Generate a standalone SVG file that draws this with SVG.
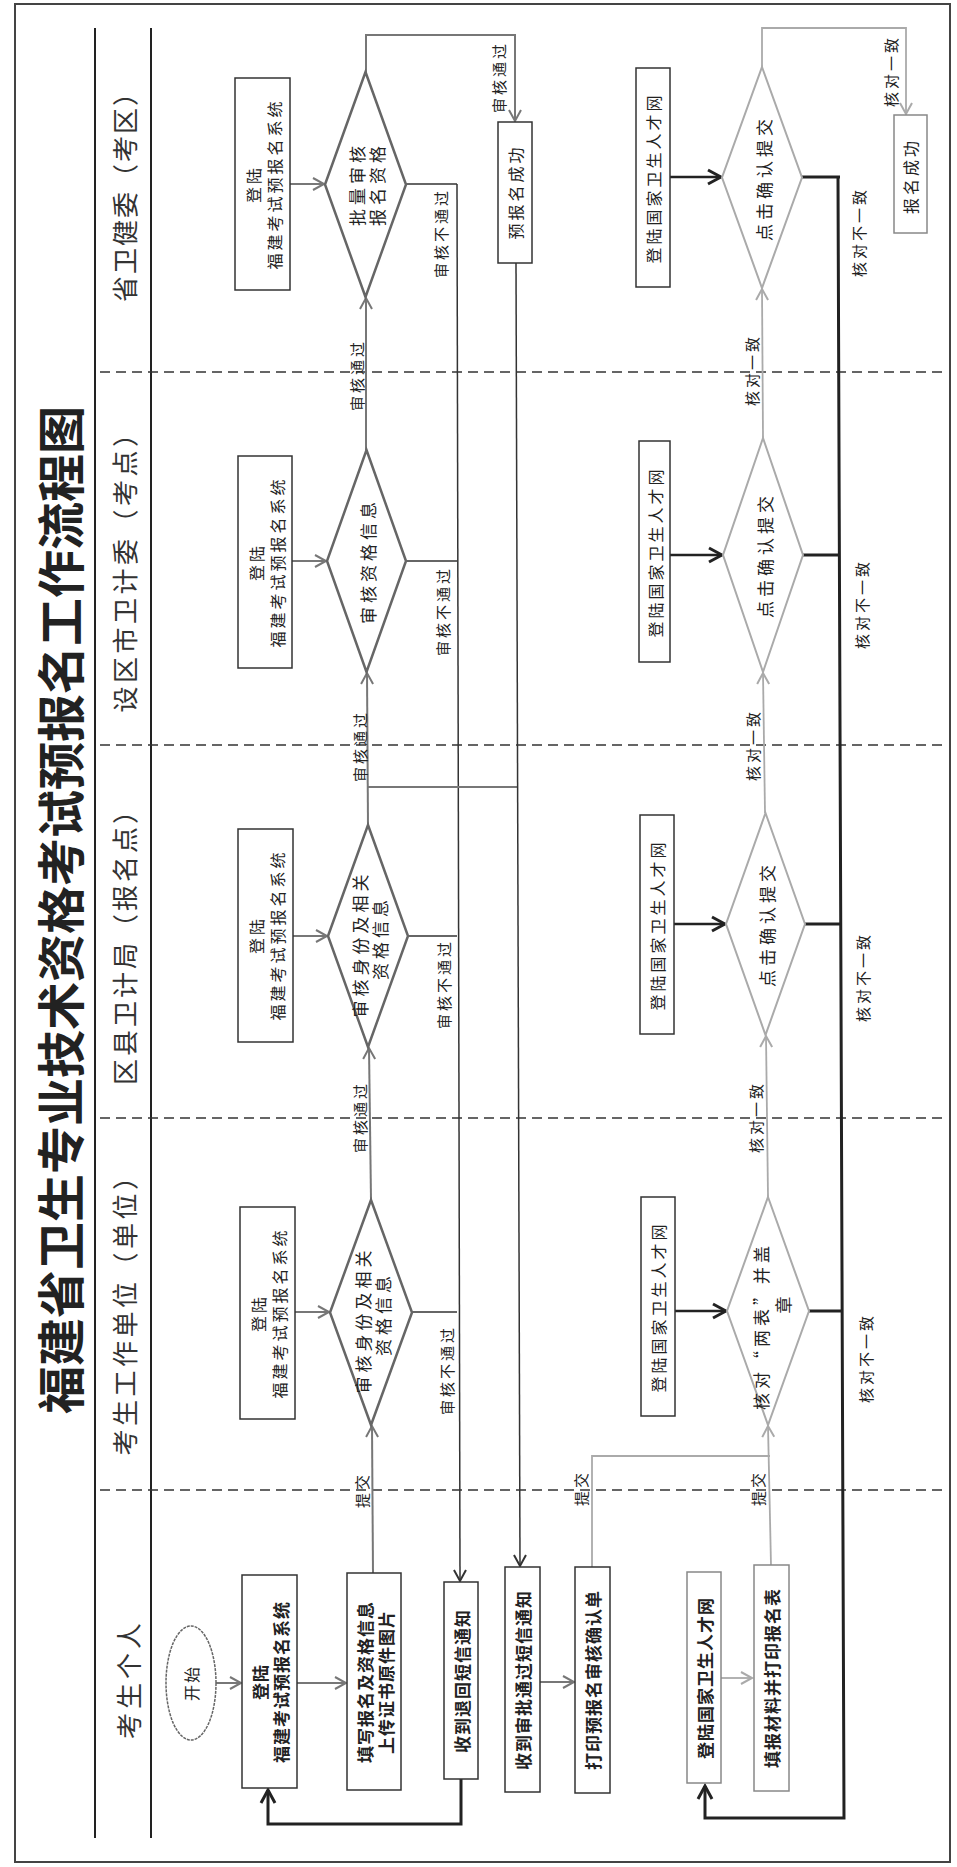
<svg xmlns="http://www.w3.org/2000/svg" width="957" height="1867" viewBox="0 0 957 1867">
<defs>
<style>
text{font-family:"Noto Sans CJK SC","Noto Sans CJK JP",sans-serif;fill:#222;text-anchor:middle;dominant-baseline:central}
.box{fill:#fff;stroke:#333;stroke-width:1.5}
.boxl{fill:#fff;stroke:#888;stroke-width:1.5}
.dia{fill:#fff;stroke:#666;stroke-width:2.5}
.dial{fill:#fff;stroke:#aaa;stroke-width:2}
.ln{fill:none;stroke:#333;stroke-width:1.5}
.lg{fill:none;stroke:#777;stroke-width:2}
.ll{fill:none;stroke:#aaa;stroke-width:1.8}
.lt{fill:none;stroke:#222;stroke-width:3}
.dash{stroke:#333;stroke-width:1.5;stroke-dasharray:10 6}
.hd{font-size:26px;fill:#333}
.lb{font-size:15px;letter-spacing:3px}
.bt{font-size:16px;letter-spacing:3px}
.bb{font-size:17px;font-weight:700;letter-spacing:1px}
.dt{font-size:17px;letter-spacing:4px}
</style>
<marker id="aD" markerUnits="userSpaceOnUse" markerWidth="16" markerHeight="16" refX="13" refY="8" orient="auto"><path d="M2,2 L13,8 L2,14" fill="none" stroke="#333" stroke-width="2"/></marker>
<marker id="aG" markerUnits="userSpaceOnUse" markerWidth="16" markerHeight="16" refX="13" refY="8" orient="auto"><path d="M2,2 L13,8 L2,14" fill="none" stroke="#777" stroke-width="2"/></marker>
<marker id="aL" markerUnits="userSpaceOnUse" markerWidth="16" markerHeight="16" refX="13" refY="8" orient="auto"><path d="M2,2 L13,8 L2,14" fill="none" stroke="#aaa" stroke-width="2"/></marker>
<marker id="aT" markerUnits="userSpaceOnUse" markerWidth="18" markerHeight="18" refX="15" refY="9" orient="auto"><path d="M2,2 L15,9 L2,16" fill="none" stroke="#222" stroke-width="3"/></marker>
</defs>
<rect x="0" y="0" width="957" height="1867" fill="#fff"/>
<rect x="15" y="4" width="935" height="1858" fill="none" stroke="#444" stroke-width="2"/>

<g id="frame">
<text x="58" y="910" transform="rotate(-90 58 910)" style="font-size:48px;font-weight:700;fill:#222">福建省卫生专业技术资格考试预报名工作流程图</text>
<line x1="95" y1="28" x2="95" y2="1838" stroke="#222" stroke-width="2"/>
<line x1="151" y1="28" x2="151" y2="1838" stroke="#222" stroke-width="2"/>
<line class="dash" x1="100" y1="372" x2="942" y2="372"/>
<line class="dash" x1="100" y1="745" x2="942" y2="745"/>
<line class="dash" x1="100" y1="1118" x2="942" y2="1118"/>
<line class="dash" x1="100" y1="1490" x2="942" y2="1490"/>
<text class="hd" x="123" y="190" transform="rotate(-90 123 190)" style="letter-spacing:2px">省卫健委（考区）</text>
<text class="hd" x="123" y="565" transform="rotate(-90 123 565)" style="letter-spacing:3.5px">设区市卫计委（考点）</text>
<text class="hd" x="123" y="940" transform="rotate(-90 123 940)" style="letter-spacing:3px">区县卫计局（报名点）</text>
<text class="hd" x="123" y="1308" transform="rotate(-90 123 1308)" style="letter-spacing:3.5px">考生工作单位（单位）</text>
<text class="hd" x="127" y="1679" transform="rotate(-90 127 1679)" style="letter-spacing:4px">考生个人</text>
</g>

<g id="connectors">
<!-- personal lane -->
<line class="lg" x1="216" y1="1683" x2="241" y2="1683" marker-end="url(#aG)"/>
<line class="lg" x1="297" y1="1683" x2="346" y2="1683" marker-end="url(#aG)"/>
<polyline class="lt" points="461,1779 461,1824 268,1824 268,1790" marker-end="url(#aT)"/>
<line class="lg" x1="540" y1="1682" x2="574" y2="1682" marker-end="url(#aG)"/>
<line class="ll" x1="721" y1="1678" x2="752" y2="1678" marker-end="url(#aL)"/>
<!-- upper system -->
<line class="lg" x1="290" y1="184" x2="324" y2="184" marker-end="url(#aG)"/>
<line class="lg" x1="292" y1="561" x2="326" y2="561" marker-end="url(#aG)"/>
<line class="lg" x1="293" y1="936" x2="327" y2="936" marker-end="url(#aG)"/>
<line class="lg" x1="295" y1="1312" x2="329" y2="1312" marker-end="url(#aG)"/>
<polyline class="ln" points="406,184 457,184"/>
<polyline class="ln" points="406,561 457,561"/>
<polyline class="ln" points="408,936 457,936"/>
<polyline class="ln" points="412,1312 457,1312"/>
<line class="ln" x1="457" y1="184" x2="460" y2="1581" marker-end="url(#aD)"/>
<line class="lg" x1="371" y1="1200" x2="369" y2="1048" marker-end="url(#aG)"/>
<line class="lg" x1="368" y1="825" x2="367" y2="673" marker-end="url(#aG)"/>
<line class="lg" x1="366" y1="450" x2="366" y2="298" marker-end="url(#aG)"/>
<polyline class="lg" points="366,72 366,35 515,35 515,121" marker-end="url(#aG)"/>
<line class="lg" x1="373" y1="1573" x2="372" y2="1426" marker-end="url(#aG)"/>
<line class="lg" x1="368" y1="787" x2="517" y2="787"/>
<line class="ln" x1="516" y1="263" x2="520" y2="1566" marker-end="url(#aD)"/>
<!-- lower talent net -->
<line class="lt" x1="670" y1="177" x2="721" y2="177" marker-end="url(#aT)" style="stroke-width:2.5"/>
<line class="lt" x1="670" y1="555" x2="722" y2="555" marker-end="url(#aT)" style="stroke-width:2.5"/>
<line class="lt" x1="674" y1="924" x2="725" y2="924" marker-end="url(#aT)" style="stroke-width:2.5"/>
<line class="lt" x1="675" y1="1311" x2="726" y2="1311" marker-end="url(#aT)" style="stroke-width:2.5"/>
<polyline class="lt" points="802,177 840,177"/>
<polyline class="lt" points="803,555 840,555"/>
<polyline class="lt" points="805,924 841,924"/>
<polyline class="lt" points="809,1311 842,1311"/>
<polyline class="lt" points="838,177 844,1818 705,1818 705,1786" marker-end="url(#aT)"/>
<line class="ll" x1="768" y1="1197" x2="766" y2="1036" marker-end="url(#aL)"/>
<line class="ll" x1="765" y1="813" x2="763" y2="673" marker-end="url(#aL)"/>
<line class="ll" x1="763" y1="438" x2="762" y2="289" marker-end="url(#aL)"/>
<polyline class="ll" points="762,67 762,28 906,28 906,114" marker-end="url(#aL)"/>
<line class="ll" x1="771" y1="1565" x2="768" y2="1426" marker-end="url(#aL)"/>
<polyline class="ll" points="592,1567 592,1456 770,1456"/>
<!-- labels -->
<text class="lb" x="440" y="233" transform="rotate(-90 440 233)">审核不通过</text>
<text class="lb" x="442" y="611" transform="rotate(-90 442 611)">审核不通过</text>
<text class="lb" x="443" y="984" transform="rotate(-90 443 984)">审核不通过</text>
<text class="lb" x="446" y="1370" transform="rotate(-90 446 1370)">审核不通过</text>
<text class="lb" x="359" y="1117" transform="rotate(-90 359 1117)">审核通过</text>
<text class="lb" x="359" y="746" transform="rotate(-90 359 746)">审核通过</text>
<text class="lb" x="356" y="375" transform="rotate(-90 356 375)">审核通过</text>
<text class="lb" x="498" y="77" transform="rotate(-90 498 77)">审核通过</text>
<text class="lb" x="361" y="1490" transform="rotate(-90 361 1490)">提交</text>
<text class="lb" x="580" y="1488" transform="rotate(-90 580 1488)">提交</text>
<text class="lb" x="757" y="1488" transform="rotate(-90 757 1488)">提交</text>
<text class="lb" x="858" y="232" transform="rotate(-90 858 232)">核对不一致</text>
<text class="lb" x="861" y="604" transform="rotate(-90 861 604)">核对不一致</text>
<text class="lb" x="862" y="977" transform="rotate(-90 862 977)">核对不一致</text>
<text class="lb" x="865" y="1358" transform="rotate(-90 865 1358)">核对不一致</text>
<text class="lb" x="755" y="1117" transform="rotate(-90 755 1117)">核对一致</text>
<text class="lb" x="752" y="745" transform="rotate(-90 752 745)">核对一致</text>
<text class="lb" x="751" y="370" transform="rotate(-90 751 370)">核对一致</text>
<text class="lb" x="890" y="71" transform="rotate(-90 890 71)">核对一致</text>
</g>

<!-- personal lane nodes -->
<g id="start">
<ellipse cx="191" cy="1683" rx="25" ry="57" fill="#fff" stroke="#666" stroke-width="1.5" stroke-dasharray="3 1"/>
<text x="191" y="1683" transform="rotate(-90 191 1683)" style="font-size:16px;letter-spacing:2px">开始</text>
</g>
<g id="p_login">
<rect class="box" x="242" y="1575" width="55" height="213"/>
<text class="bb" x="259" y="1682" transform="rotate(-90 259 1682)">登陆</text>
<text class="bb" x="280" y="1682" transform="rotate(-90 280 1682)">福建考试预报名系统</text>
</g>
<g id="p_fill">
<rect class="box" x="347" y="1573" width="54" height="217"/>
<text class="bb" x="364" y="1682" transform="rotate(-90 364 1682)">填写报名及资格信息</text>
<text class="bb" x="385" y="1682" transform="rotate(-90 385 1682)">上传证书原件图片</text>
</g>
<g id="p_reject">
<rect class="box" x="444" y="1582" width="34" height="197"/>
<text class="bb" x="461" y="1681" transform="rotate(-90 461 1681)">收到退回短信通知</text>
</g>
<g id="p_pass">
<rect class="box" x="505" y="1567" width="35" height="225"/>
<text class="bb" x="522" y="1680" transform="rotate(-90 522 1680)">收到审批通过短信通知</text>
</g>
<g id="p_print">
<rect class="box" x="575" y="1567" width="35" height="226"/>
<text class="bb" x="592" y="1680" transform="rotate(-90 592 1680)">打印预报名审核确认单</text>
</g>
<g id="p_net">
<rect class="boxl" x="687" y="1572" width="34" height="211"/>
<text class="bb" x="704" y="1678" transform="rotate(-90 704 1678)">登陆国家卫生人才网</text>
</g>
<g id="p_submit">
<rect class="boxl" x="754" y="1565" width="35" height="226"/>
<text class="bb" x="771" y="1678" transform="rotate(-90 771 1678)">填报材料并打印报名表</text>
</g>

<!-- upper system: login boxes -->
<g id="u_login_prov">
<rect class="box" x="235" y="78" width="55" height="212"/>
<text class="bt" x="253" y="184" transform="rotate(-90 253 184)">登陆</text>
<text class="bt" x="274" y="184" transform="rotate(-90 274 184)">福建考试预报名系统</text>
</g>
<g id="u_login_city">
<rect class="box" x="238" y="456" width="54" height="212"/>
<text class="bt" x="256" y="562" transform="rotate(-90 256 562)">登陆</text>
<text class="bt" x="277" y="562" transform="rotate(-90 277 562)">福建考试预报名系统</text>
</g>
<g id="u_login_county">
<rect class="box" x="238" y="829" width="55" height="213"/>
<text class="bt" x="256" y="935" transform="rotate(-90 256 935)">登陆</text>
<text class="bt" x="277" y="935" transform="rotate(-90 277 935)">福建考试预报名系统</text>
</g>
<g id="u_login_unit">
<rect class="box" x="240" y="1207" width="55" height="212"/>
<text class="bt" x="258" y="1313" transform="rotate(-90 258 1313)">登陆</text>
<text class="bt" x="279" y="1313" transform="rotate(-90 279 1313)">福建考试预报名系统</text>
</g>

<!-- upper diamonds -->
<g id="u_dia_prov">
<polygon class="dia" points="365.5,72 406,184.5 365.5,297 325,184.5"/>
<text class="dt" x="356" y="184" transform="rotate(-90 356 184)">批量审核</text>
<text class="dt" x="376" y="184" transform="rotate(-90 376 184)">报名资格</text>
</g>
<g id="u_dia_city">
<polygon class="dia" points="366.5,450 406,561 366.5,672 327,561"/>
<text class="dt" x="367" y="561" transform="rotate(-90 367 561)">审核资格信息</text>
</g>
<g id="u_dia_county">
<polygon class="dia" points="368,825 408,936 368,1047 328,936"/>
<text class="dt" x="359" y="944" transform="rotate(-90 359 944)">审核身份及相关</text>
<text class="dt" x="379" y="938" transform="rotate(-90 379 938)">资格信息</text>
</g>
<g id="u_dia_unit">
<polygon class="dia" points="371,1200 412,1312.5 371,1425 330,1312.5"/>
<text class="dt" x="362" y="1320" transform="rotate(-90 362 1320)">审核身份及相关</text>
<text class="dt" x="382" y="1314" transform="rotate(-90 382 1314)">资格信息</text>
</g>
<g id="u_pre_ok">
<rect class="box" x="498" y="122" width="34" height="141"/>
<text class="bt" x="515" y="192" transform="rotate(-90 515 192)">预报名成功</text>
</g>

<!-- lower talent net: login boxes -->
<g id="l_login_prov">
<rect class="box" x="636" y="68" width="34" height="219"/>
<text class="bt" x="653" y="178" transform="rotate(-90 653 178)">登陆国家卫生人才网</text>
</g>
<g id="l_login_city">
<rect class="box" x="639" y="441" width="31" height="221"/>
<text class="bt" x="655" y="552" transform="rotate(-90 655 552)">登陆国家卫生人才网</text>
</g>
<g id="l_login_county">
<rect class="box" x="640" y="815" width="34" height="219"/>
<text class="bt" x="657" y="925" transform="rotate(-90 657 925)">登陆国家卫生人才网</text>
</g>
<g id="l_login_unit">
<rect class="box" x="641" y="1197" width="34" height="219"/>
<text class="bt" x="658" y="1307" transform="rotate(-90 658 1307)">登陆国家卫生人才网</text>
</g>

<!-- lower diamonds -->
<g id="l_dia_prov">
<polygon class="dial" points="762,67 802,177.5 762,288 722,177.5"/>
<text class="dt" x="763" y="178" transform="rotate(-90 763 178)">点击确认提交</text>
</g>
<g id="l_dia_city">
<polygon class="dial" points="763,438 803,555 763,672 723,555"/>
<text class="dt" x="764" y="555" transform="rotate(-90 764 555)">点击确认提交</text>
</g>
<g id="l_dia_county">
<polygon class="dial" points="765.5,813 805,924 765.5,1035 726,924"/>
<text class="dt" x="766" y="924" transform="rotate(-90 766 924)">点击确认提交</text>
</g>
<g id="l_dia_unit">
<polygon class="dial" points="768,1197 809,1311 768,1425 727,1311"/>
<text class="dt" x="760" y="1326" transform="rotate(-90 760 1326)">核对“两表”并盖</text>
<text class="dt" x="782" y="1303" transform="rotate(-90 782 1303)">章</text>
</g>
<g id="l_success">
<rect class="boxl" x="894" y="115" width="33" height="118"/>
<text class="bt" x="910" y="176" transform="rotate(-90 910 176)">报名成功</text>
</g>
</svg>
